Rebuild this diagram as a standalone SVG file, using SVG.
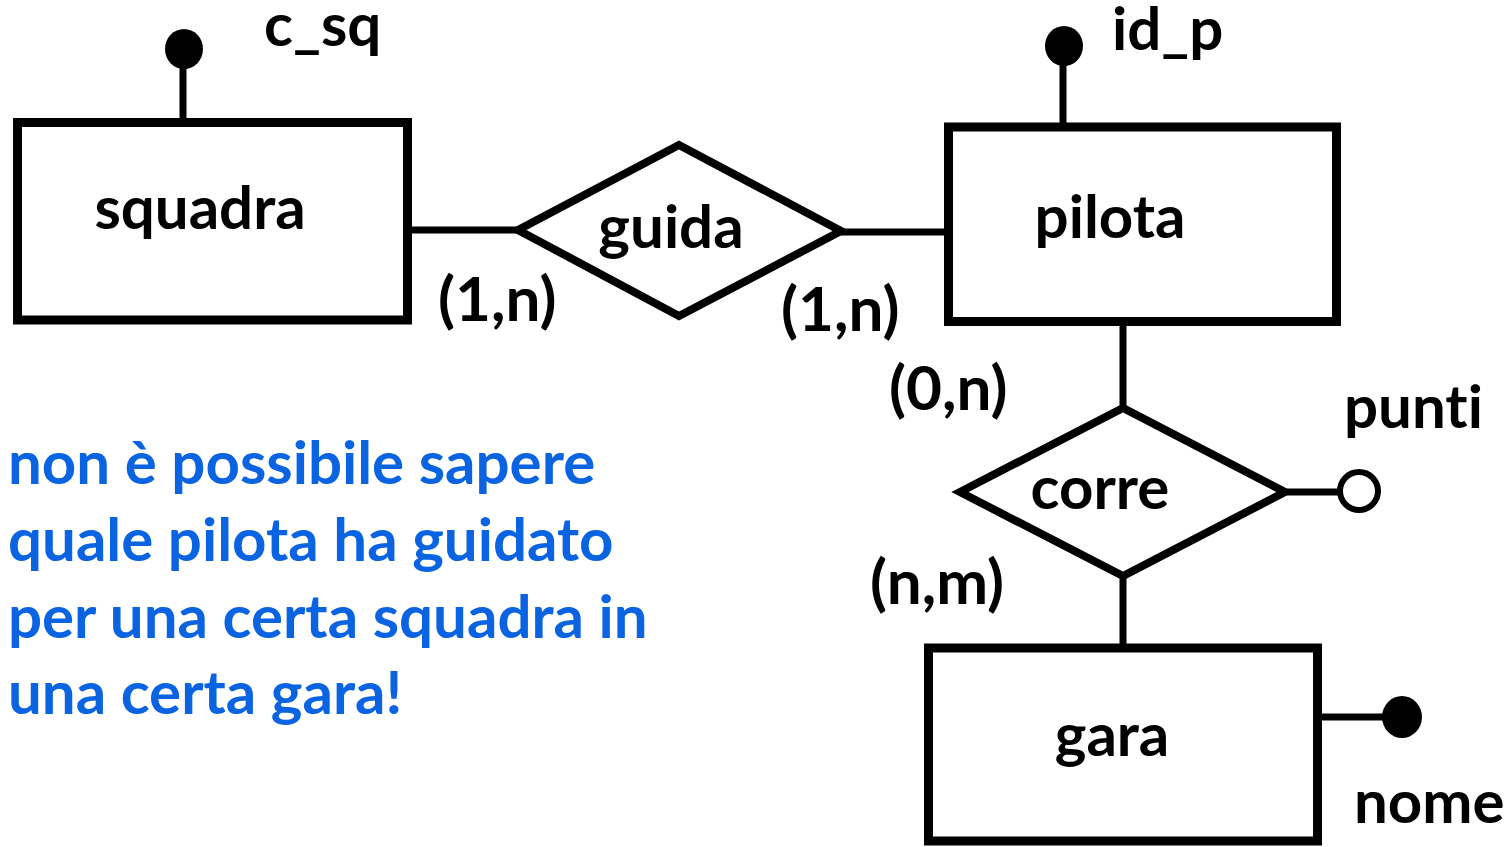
<svg xmlns="http://www.w3.org/2000/svg" width="1508" height="847" viewBox="0 0 1508 847">
<style>
.ent{fill:#fff;stroke:#000;stroke-width:9}
.rel{fill:#fff;stroke:#000;stroke-width:8;stroke-linejoin:miter}
.ln{stroke:#000;stroke-width:7;fill:none}
text{font-variant-ligatures:none}
.t{font-family:Lato,"Open Sans",sans-serif;font-weight:bold;fill:#000}
.lab{font-size:60px;text-anchor:middle}
.attr{font-size:60px}
.card{font-size:62px}
.note{font-family:Lato,"Open Sans",sans-serif;font-weight:bold;fill:#0a63e0;font-size:60px}
.key{fill:#000}
.opt{fill:#fff;stroke:#000;stroke-width:6}
</style>
<rect width="1508" height="847" fill="#fff"/>
<g id="connectors">
<line class="ln" x1="412" y1="230" x2="518" y2="230"/>
<line class="ln" x1="840" y1="232" x2="946" y2="232"/>
<line class="ln" x1="1123" y1="326" x2="1123" y2="408"/>
<line class="ln" x1="1123" y1="576" x2="1123" y2="645"/>
<line class="ln" x1="1287" y1="492" x2="1340" y2="492"/>
<line class="ln" x1="1322" y1="717" x2="1388" y2="717"/>
<line class="ln" x1="183" y1="60" x2="183" y2="119"/>
<line class="ln" x1="1063" y1="60" x2="1063" y2="124"/>
</g>
<g id="squadra">
<rect class="ent" x="17.5" y="122.5" width="390" height="197.5"/>
<text class="t lab" x="200" y="229">squadra</text>
</g>
<g id="attr-c_sq">
<ellipse class="key" cx="184" cy="49" rx="19" ry="20"/>
<text class="t attr" x="264" y="46">c_sq</text>
</g>
<g id="guida">
<polygon class="rel" points="518,230 679,145 841,231 679,316"/>
<text class="t lab" x="671" y="248">guida</text>
</g>
<g id="pilota">
<rect class="ent" x="948.5" y="127" width="388" height="194.5"/>
<text class="t lab" x="1110" y="238">pilota</text>
</g>
<g id="attr-id_p">
<ellipse class="key" cx="1064" cy="46" rx="19" ry="20"/>
<text class="t attr" x="1112" y="50">id_p</text>
</g>
<g id="corre">
<polygon class="rel" points="960,492 1123,408 1285,492 1123,576"/>
<text class="t lab" x="1100" y="509">corre</text>
</g>
<g id="attr-punti">
<circle class="opt" cx="1359" cy="491" r="19"/>
<text class="t attr" x="1344" y="428">punti</text>
</g>
<g id="gara">
<rect class="ent" x="928.5" y="648" width="389" height="193"/>
<text class="t lab" x="1112" y="756">gara</text>
</g>
<g id="attr-nome">
<ellipse class="key" cx="1402" cy="717" rx="20" ry="21"/>
<text class="t attr" x="1354" y="823">nome</text>
</g>
<g id="cardinalities">
<text class="t card" x="438" y="321">(1,n)</text>
<text class="t card" x="781" y="331">(1,n)</text>
<text class="t card" x="889" y="410">(0,n)</text>
<text class="t card" x="870" y="604">(n,m)</text>
</g>
<g id="note">
<text class="note" x="8" y="484">non è possibile sapere</text>
<text class="note" x="8" y="561">quale pilota ha guidato</text>
<text class="note" x="8" y="638">per una certa squadra in</text>
<text class="note" x="8" y="714">una certa gara!</text>
</g>
</svg>
